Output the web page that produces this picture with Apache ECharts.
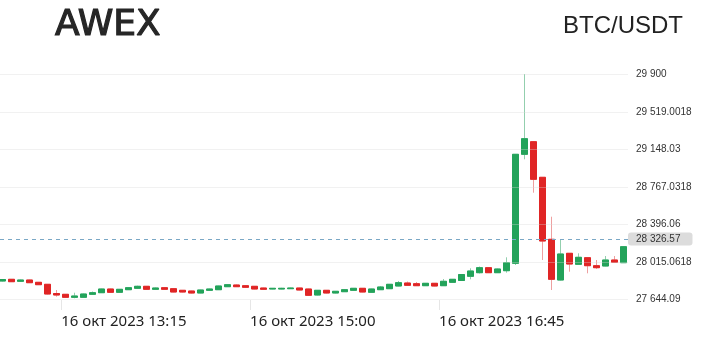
<!DOCTYPE html>
<html><head><meta charset="utf-8">
<script src="https://cdn.jsdelivr.net/npm/echarts@6/dist/echarts.min.js"></script>
<style>html,body{margin:0;padding:0;background:#fff}#c{width:704px;height:352px}</style>
</head><body><div id="c"></div>
<script>
const times = ['12:40','12:45','12:50','12:55',
 '13:00','13:05','13:10','13:15','13:20','13:25','13:30','13:35','13:40','13:45','13:50','13:55',
 '14:00','14:05','14:10','14:15','14:20','14:25','14:30','14:35','14:40','14:45','14:50','14:55',
 '15:00','15:05','15:10','15:15','15:20','15:25','15:30','15:35','15:40','15:45','15:50','15:55',
 '16:00','16:05','16:10','16:15','16:20','16:25','16:30','16:35','16:40','16:45','16:50','16:55',
 '17:00','17:05','17:10','17:15','17:20','17:25','17:30','17:35','17:40','17:45','17:50','17:55',
 '18:00','18:05','18:10','18:15','18:20','18:25'];
const open = [27830,27847,27827,27840,27817,27797,27705,27697,27667,27667,
 27697,27713,27750,27717,27743,27757,27777,27747,27763,27753,
 27737,27730,27710,27737,27743,27773,27790,27783,27777,27760,
 27750,27750,27753,27760,27750,27690,27737,27710,27723,27737,
 27757,27717,27743,27753,27780,27810,27803,27783,27807,27783,
 27817,27835,27877,27913,27963,27913,27933,28007,29097,29223,
 28867,28247,27840,28107,27997,28063,27983,27980,28040,28013];
const close = [27845,27823,27840,27813,27793,27700,27690,27667,27680,27700,
 27713,27750,27717,27747,27763,27777,27747,27760,27747,27720,
 27720,27710,27740,27750,27780,27793,27773,27767,27750,27747,
 27757,27757,27760,27740,27687,27737,27710,27727,27743,27757,
 27720,27750,27770,27797,27813,27787,27783,27807,27780,27827,
 27847,27895,27930,27963,27913,27950,28013,29097,29253,28847,
 28230,27847,28100,28000,28067,27983,27963,28040,28017,28173];
const low = [27825,27820,27822,27810,27790,27695,27673,27662,27657,27664,
 27690,27710,27713,27713,27740,27752,27743,27743,27743,27717,
 27715,27705,27707,27733,27740,27770,27770,27763,27747,27743,
 27747,27747,27750,27737,27683,27686,27706,27706,27720,27733,
 27717,27713,27740,27750,27777,27783,27780,27780,27777,27780,
 27813,27830,27847,27905,27910,27910,27913,27990,29047,28713,
 28040,27740,27835,27923,27993,27907,27950,27977,28013,28010];
const high = [27850,27850,27845,27843,27820,27800,27740,27700,27713,27705,
 27725,27753,27753,27750,27767,27783,27780,27765,27767,27757,
 27740,27733,27743,27753,27783,27800,27795,27787,27780,27763,
 27760,27762,27763,27763,27753,27740,27740,27730,27747,27760,
 27760,27753,27780,27800,27830,27825,27820,27810,27810,27850,
 27850,27900,27957,27975,27967,27955,28067,29100,29900,29227,
 28870,28473,28240,28110,28107,28067,28040,28080,28080,28177];
const xTickTimes = ['13:15','15:00','16:45'];
const xTickLabels = ['16 окт 2023 13:15','16 окт 2023 15:00','16 окт 2023 16:45'];
const yTickValues = [27644.09, 28015.0618, 28396.06, 28767.0318, 29148.03, 29519.0018, 29900];
const yTickLabels = ['27 644.09','28 015.0618','28 396.06','28 767.0318','29 148.03','29 519.0018','29 900'];
const lastPriceLabel = '28 326.57';
const priceLineLevel = 28250;
const axisStart = '12:41', axisEnd = '18:30';

const toMin = t => { const p = t.split(':').map(Number); return p[0]*60 + p[1]; };
const half = 2.5;
const wickData = times.map((t,i) => [toMin(t)+half, open[i], close[i], low[i], high[i]]);
const bodyData = times.map((t,i) => [toMin(t)+half, open[i], close[i], Math.min(open[i],close[i]), Math.max(open[i],close[i])]);
const xTickMins = xTickTimes.map(toMin);

const chart = echarts.init(document.getElementById('c'), null, {renderer:'canvas'});
chart.setOption({
  animation:false,
  backgroundColor:'#fff',
  graphic:[
    {type:'text', x:55, y:26, style:{text:'AWEX', font:'36px "DejaVu Sans"', fill:'#262626', stroke:'#262626', lineWidth:1.2, align:'left', verticalAlign:'middle'}},
    {type:'text', x:683, y:26, style:{text:'BTC/USDT', font:'24px "Liberation Sans"', fill:'#222', align:'right', verticalAlign:'middle'}}
  ],
  grid:{left:0, right:76, top:60, bottom:52},
  xAxis:{
    type:'value', min:toMin(axisStart), max:toMin(axisEnd),
    axisLine:{show:false}, splitLine:{show:false},
    axisTick:{show:true, length:10, lineStyle:{color:'#e6e6e6'}, customValues:xTickMins},
    axisLabel:{customValues:xTickMins, align:'left', margin:14, fontFamily:'Noto Sans', fontSize:15, color:'#222',
      formatter:(v)=> { const k = xTickMins.indexOf(v); return k>=0 ? xTickLabels[k] : ''; }}
  },
  yAxis:{
    type:'value', position:'right', min:27640, max:30040, z:3, scale:true,
    axisLine:{show:false},
    axisTick:{show:false, customValues:yTickValues},
    splitLine:{show:true, lineStyle:{color:'rgba(215,215,215,0.35)'}},
    axisLabel:{customValues:yTickValues, margin:8, fontFamily:'Liberation Sans', fontSize:10, color:'#333',
      formatter:(v)=>{ let k=0, d=Infinity; yTickValues.forEach((y,i)=>{ if(Math.abs(y-v)<d){d=Math.abs(y-v);k=i;} }); return yTickLabels[k]; }}
  },
  series:[
    {type:'candlestick', data:wickData, barWidth:7, z:2,
      itemStyle:{color:'#93cfae', color0:'#eea0a0', borderColor:'#93cfae', borderColor0:'#eea0a0', borderWidth:1}},
    {type:'candlestick', data:bodyData, barWidth:7, z:2,
      itemStyle:{color:'#23a35a', color0:'#e02525', borderColor:'#23a35a', borderColor0:'#e02525', borderWidth:1},
      markLine:{silent:true, symbol:['none','none'],
        lineStyle:{color:'#7aa8c6', type:[4,4], width:1},
        label:{position:'end', distance:0, formatter:()=>lastPriceLabel, backgroundColor:'#dcdcdc', borderRadius:3,
          padding:[2,12,1,8], color:'#333', fontFamily:'Liberation Sans', fontSize:10},
        data:[{yAxis:priceLineLevel}]}}
  ]
});
</script></body></html>
